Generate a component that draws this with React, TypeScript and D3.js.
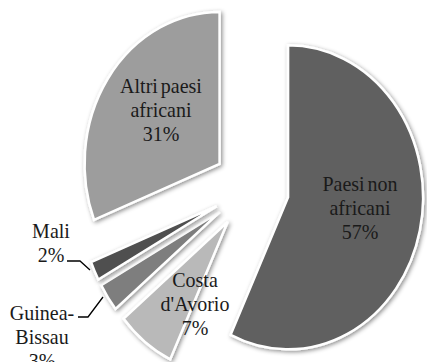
import React from "react";
import * as d3 from "d3";

const categories = ["Paesi non africani", "Costa d'Avorio", "Guinea-Bissau", "Mali", "Altri paesi africani"];
const values = [57, 7, 3, 2, 31];
const percentLabels = ["57%", "7%", "3%", "2%", "31%"];
const labelLines = [["Paesi non", "africani"], ["Costa", "d'Avorio"], ["Guinea-", "Bissau"], ["Mali"], ["Altri paesi", "africani"]];
const colors = ["#606060", "#b9b9b9", "#7e7e7e", "#4f4f4f", "#9d9d9d"];

// layout
const W = 427, H = 362;
const CX = 251, CY = 188;
const RX = 135, RY = 152;
const SY = RY / RX;
const EXPLODE = 38;
const LINE_H = 24;
const FONT = "'Liberation Serif', 'DejaVu Serif', 'Times New Roman', Times, serif";
// label block centers (x, first baseline)
const labelAnchors: [number, number][] = [[360, 191], [195, 287], [42, 320], [51, 238], [161, 93]];
const leaders: ([number, number][] | null)[] = [
  null,
  null,
  [[78, 317], [88, 317], [103, 297]],
  [[67, 261], [80, 261], [90, 270]],
  null,
];

export default function App() {
  const pie = d3.pie<number>().sort(null).value((d) => d).startAngle(0).endAngle(2 * Math.PI);
  const arcs = pie(values);
  const arc = d3.arc<d3.PieArcDatum<number>>().innerRadius(0).outerRadius(RX);
  const line = d3.line();

  return (
    <svg width={W} height={H} style={{ position: "absolute", left: 0, top: 0, background: "#fff" }}>
      <defs>
        <filter id="sh" x="-20%" y="-20%" width="140%" height="140%">
          <feDropShadow dx="1.5" dy="1.5" stdDeviation="2" floodColor="#000" floodOpacity="0.45" />
        </filter>
      </defs>
      {arcs.map((a, i) => {
        const mid = (a.startAngle + a.endAngle) / 2;
        const ox = EXPLODE * Math.sin(mid);
        const oy = -EXPLODE * Math.cos(mid) * SY;
        return (
          <g key={i} filter="url(#sh)">
            <g transform={`translate(${CX + ox},${CY + oy}) scale(1,${SY})`}>
              <path d={arc(a) || ""} fill={colors[i]} stroke="#fff" strokeWidth={2.5}
                strokeLinejoin="miter" vectorEffect="non-scaling-stroke" />
            </g>
          </g>
        );
      })}
      {leaders.map((pts, i) =>
        pts ? <path key={"l" + i} d={line(pts) || ""} fill="none" stroke="#000" strokeWidth={1.3} /> : null
      )}
      {categories.map((c, i) => {
        const [x, y] = labelAnchors[i];
        const lines = [...labelLines[i], percentLabels[i]];
        return (
          <g key={"t" + i}>
            {lines.map((t, j) => (
              <text key={j} transform={`translate(${x},${y + j * LINE_H}) scale(1,1.1)`}
                textAnchor="middle"
                fontSize={20} fill="#1a1a1a" style={{ wordSpacing: "-2px", fontFamily: FONT }}>
                {t}
              </text>
            ))}
          </g>
        );
      })}
    </svg>
  );
}
